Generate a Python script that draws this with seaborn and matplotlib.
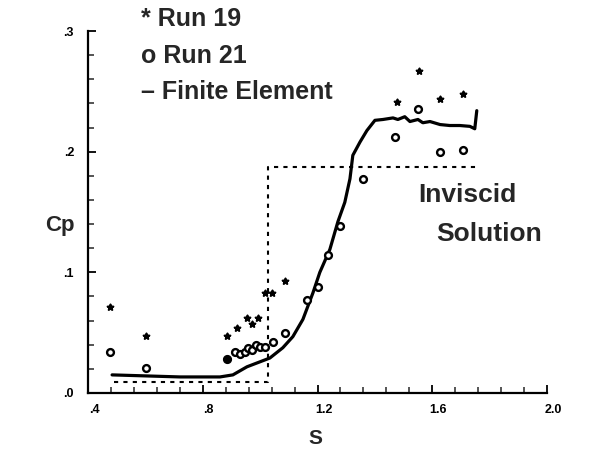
import matplotlib
matplotlib.use("Agg")
import matplotlib.pyplot as plt
import matplotlib.transforms as mtransforms
from matplotlib.ticker import MultipleLocator
import seaborn as sns
import pandas as pd

# Experimental pressure coefficients
run19_s = [0.477, 0.602, 0.884, 0.884, 0.919, 0.954, 0.971, 0.992, 1.017, 1.041, 1.086,
           1.477, 1.553, 1.627, 1.707]
run19_cp = [0.071, 0.047, 0.047, 0.028, 0.054, 0.0625, 0.057, 0.0625, 0.083, 0.083, 0.093,
            0.241, 0.267, 0.244, 0.2475]

run21_s = [0.477, 0.602, 0.884, 0.912, 0.930, 0.947, 0.957, 0.971, 0.985, 0.999, 1.017,
           1.045, 1.086, 1.163, 1.201, 1.236, 1.278, 1.358, 1.470, 1.550, 1.627, 1.707]
run21_cp = [0.034, 0.021, 0.028, 0.034, 0.032, 0.034, 0.0375, 0.036, 0.040, 0.038, 0.038,
            0.0425, 0.050, 0.077, 0.088, 0.114, 0.138, 0.177, 0.2125, 0.235, 0.200, 0.2017]

# Finite element prediction
fe_s = [0.484, 0.721, 0.860, 0.905, 0.954, 0.999, 1.034, 1.079, 1.114, 1.149, 1.184, 1.208,
        1.243, 1.271, 1.295, 1.313, 1.323, 1.348, 1.372, 1.400, 1.428, 1.463, 1.480, 1.504,
        1.522, 1.550, 1.567, 1.592, 1.627, 1.661, 1.696, 1.731, 1.748, 1.755]
fe_cp = [0.015, 0.0133, 0.0133, 0.015, 0.0217, 0.0258, 0.029, 0.0375, 0.0467, 0.061, 0.083,
         0.100, 0.119, 0.142, 0.158, 0.1775, 0.197, 0.208, 0.2175, 0.226, 0.2267, 0.228,
         0.2267, 0.229, 0.225, 0.2267, 0.224, 0.225, 0.2225, 0.2217, 0.2217, 0.221, 0.219, 0.234]

# Inviscid step solution
inv_s = [0.49, 1.026, 1.026, 1.76]
inv_cp = [0.009, 0.009, 0.1875, 0.1875]

x_ticks = [0.4, 0.8, 1.2, 1.6, 2.0]
x_ticklabels = [".4", ".8", "1.2", "1.6", "2.0"]
y_ticks = [0.0, 0.1, 0.2, 0.3]
y_ticklabels = [".0", ".1", ".2", ".3"]

sns.set_style("ticks")
plt.rcParams["font.family"] = ["Liberation Sans", "DejaVu Sans"]

fig = plt.figure(figsize=(6.14, 4.5), dpi=100)
ax = fig.add_axes([0.1433, 0.1267, 0.891 - 0.1433, 0.931 - 0.1267])

inv_df = pd.DataFrame({"s": inv_s, "cp": inv_cp})
fe_df = pd.DataFrame({"s": fe_s, "cp": fe_cp})
r19 = pd.DataFrame({"s": run19_s, "cp": run19_cp})
r21 = pd.DataFrame({"s": run21_s, "cp": run21_cp})

sns.lineplot(data=inv_df, x="s", y="cp", sort=False, ax=ax, color="black",
             linewidth=1.5, linestyle=(0, (2, 2.5)), estimator=None)
sns.lineplot(data=fe_df, x="s", y="cp", sort=False, ax=ax, color="black",
             linewidth=2.3, estimator=None)
sns.scatterplot(data=r21, x="s", y="cp", ax=ax, marker="o", s=24,
                facecolor="white", edgecolor="black", linewidth=1.7, zorder=4)
sns.scatterplot(data=r19, x="s", y="cp", ax=ax, marker="*", s=20,
                color="black", edgecolor="black", linewidth=1.4, zorder=5)

ax.set_xlim(0.4, 2.0)
ax.set_ylim(0.0, 0.3)
ax.set_xticks(x_ticks)
ax.set_xticklabels(x_ticklabels, fontsize=9, fontweight="bold")
ax.set_yticks(y_ticks)
ax.set_yticklabels(y_ticklabels, fontsize=9, fontweight="bold")
ax.xaxis.set_minor_locator(MultipleLocator(0.08))
ax.yaxis.set_minor_locator(MultipleLocator(0.02))
ax.tick_params(axis="both", which="major", direction="in", length=6, width=1.3,
               colors="black")
ax.tick_params(axis="both", which="minor", direction="in", length=4, width=1.1)
ax.tick_params(axis="y", which="major", pad=10)
ax.tick_params(axis="x", which="major", pad=8)
shift = mtransforms.ScaledTranslation(6 / 100, 0, fig.dpi_scale_trans)
for lbl in ax.get_xticklabels():
    lbl.set_transform(lbl.get_transform() + shift)

for side in ("top", "right"):
    ax.spines[side].set_visible(False)
for side in ("left", "bottom"):
    ax.spines[side].set_linewidth(1.6)
    ax.spines[side].set_color("black")

ax.set_xlabel("")
ax.set_ylabel("")
fig.text(60 / 614, 1 - 226 / 450, "Cp", fontsize=16, fontweight="bold",
         ha="center", va="center")
fig.text(315 / 614, 1 - 438 / 450, "S", fontsize=15, fontweight="bold",
         ha="center", va="center")

ax.text(467 / 614, 1 - 195 / 450, "Inviscid", transform=fig.transFigure,
        fontsize=19, fontweight="bold", ha="center", va="center")
ax.text(489 / 614, 1 - 234 / 450, "Solution", transform=fig.transFigure,
        fontsize=19, fontweight="bold", ha="center", va="center")

legend_items = ["* Run 19", "o Run 21", "\u2013 Finite Element"]
legend_y = [19, 56, 92]
for txt, yy in zip(legend_items, legend_y):
    fig.text(141 / 614, 1 - yy / 450, txt, fontsize=18, fontweight="bold",
             ha="left", va="center")

fig.savefig("out.png", dpi=100)
